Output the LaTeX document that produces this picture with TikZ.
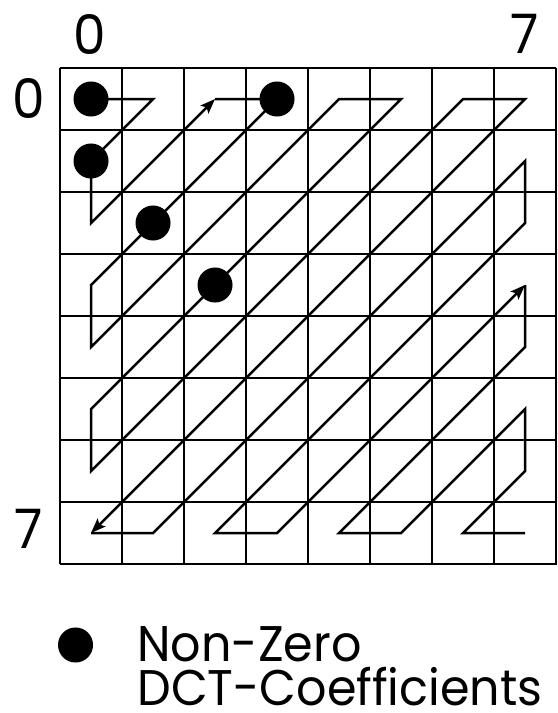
\documentclass[tikz,border=0pt]{standalone}
\usepackage{fontspec}
\setmainfont[FakeStretch=0.95]{Poppins}
\usetikzlibrary{arrows.meta,positioning}

\tikzstyle{coef} = [circle, fill, minimum size=0.565cm, inner sep=0pt]
\tikzstyle{idx} = [font=\fontsize{25}{25}\selectfont, inner sep=0pt]
\tikzstyle{scan} = [line width=1.15pt]
\tikzstyle{tip} = [-{Stealth[length=0.24cm,width=0.18cm,inset=0.05cm]}]
\tikzstyle{legend} = [font=\fontsize{23}{23}\selectfont, anchor=base west, inner sep=0pt,
    text height=0.5cm, text depth=0pt]

\begin{document}
\begin{tikzpicture}
\useasboundingbox (-0.968,1.097) rectangle (8.016,-10.403);
% grid
\draw[line width=0.55pt] (0,0) grid (8,-8);
\draw[line width=0.9pt] (7,-7) rectangle (8,-8);
% cell centres
\foreach \c in {0,...,7}
  \foreach \r in {0,...,7}
    \coordinate (c\c\r) at (\c+0.5,-\r-0.5);
% indices
\node[idx] (top0) at (0.484,0.548) {0};
\node[idx] (top7) at (7.5,0.548) {7};
\node[idx] (left0) at (-0.5,-0.5) {0};
\node[idx] (left7) at (-0.5,-7.435) {7};
% scan path
\draw[scan,tip] (c00) -- (c10) -- (c01) -- (c02) -- (c20);
\draw[scan,tip] (c20) -- (c30) -- (c03) -- (c04) -- (c40) -- (c50) -- (c05)
    -- (c06) -- (c60) -- (c70) -- (c07);
\draw[scan,tip] (c07) -- (c17) -- (c71) -- (c72) -- (c27) -- (c37) -- (c73);
\draw[scan] (c73) -- (c74) -- (c47) -- (c57) -- (c75) -- (c76) -- (c67) -- (c77);
% non-zero coefficients
\foreach \c/\r in {0/0,0/1,3/0,1/2,2/3}
  \node[coef] (dot\c\r) at (c\c\r) {};
% legend
\node[coef] (legdot) at (0.25,-9.306) {};
\node[legend] (legtop) at (1.242,-9.58) {Non-Zero};
\node[legend] (legbot) at (1.242,-10.274) {DCT-Coefficients};
\end{tikzpicture}
\end{document}
